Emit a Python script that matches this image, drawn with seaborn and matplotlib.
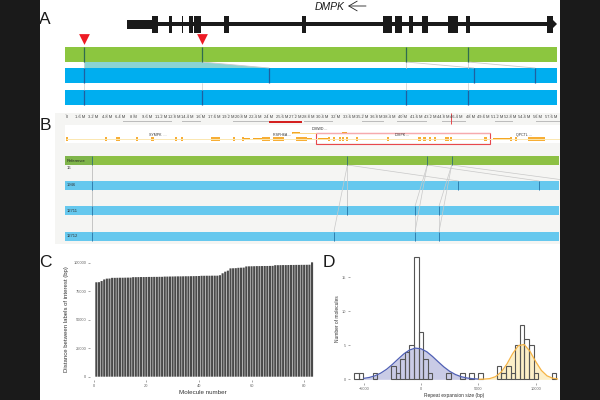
import numpy as np
import pandas as pd
import matplotlib
matplotlib.use("Agg")
import matplotlib.pyplot as plt
from matplotlib.patches import Rectangle, Polygon
import seaborn as sns

# ---------- Panel A (position units: along the reference map) ----------
gene_exons = [(87.4, 93), (104, 106.7), (117, 117.7), (123.6, 127.8), (129, 136.4),
              (159, 164), (237, 241), (317.8, 327), (329.5, 337.4), (344.3, 348.4),
              (356.7, 363), (383, 387.7), (388.4, 393), (400.5, 404.7), (481.5, 488)]
gene_span = (61.5, 492)
gene_utr = (61.5, 90)
repeat_sites = [18.5, 136.7]
a_reference = [19, 136.7, 341, 403]
a_mol1 = [19, 204, 408.8, 470]
a_mol2 = [19, 136.7, 341, 403]

# ---------- Panel B (Mb-style ruler units) ----------
ruler_labels = ["0", "1.6 M", "3.2 M", "4.8 M", "6.4 M", "8 M", "9.6 M", "11.2 M", "12.8 M",
                "14.4 M", "16 M", "17.6 M", "19.2 M", "20.8 M", "22.4 M", "24 M", "25.6 M",
                "27.2 M", "28.8 M", "30.4 M", "32 M", "33.6 M", "35.2 M", "36.8 M", "38.4 M",
                "40 M", "41.6 M", "43.2 M", "44.8 M", "46.4 M", "48 M", "49.6 M", "51.2 M",
                "52.8 M", "54.4 M", "56 M", "57.6 M"]
ruler_values = [0, 1.6, 3.2, 4.8, 6.4, 8, 9.6, 11.2, 12.8, 14.4, 16, 17.6, 19.2, 20.8, 22.4, 24,
                25.6, 27.2, 28.8, 30.4, 32, 33.6, 35.2, 36.8, 38.4, 40, 41.6, 43.2, 44.8, 46.4,
                48, 49.6, 51.2, 52.8, 54.4, 56, 57.6]
gap_segments = [(6.7, 12.55), (13.7, 16), (19.8, 24.1), (28.25, 31.7), (35.1, 37.75),
                (39.3, 42.9), (44.65, 47.5), (50.95, 53.1), (55.8, 58.7)]
red_segment = (24.1, 28)
small_exons = [(-0.1, 0.15), (4.55, 4.85), (5.9, 6.4), (8.3, 8.55), (10.1, 10.4), (12.85, 13.15),
               (13.6, 13.8), (17.2, 17.6), (17.7, 18.2), (19.8, 20.05), (20.9, 21.1),
               (31.1, 31.3), (31.7, 31.95), (32.4, 32.6), (32.8, 33.0), (33.2, 33.5), (34.4, 34.65),
               (38.1, 38.3), (41.85, 42.2), (42.35, 42.7), (43.1, 43.3), (43.7, 43.95),
               (45.0, 45.2), (45.3, 45.5), (45.6, 45.8), (49.65, 50.0), (52.75, 52.95), (53.35, 53.55)]
coding_segments = [(21.0, 21.8), (22.2, 23.25), (28.6, 29.2), (29.9, 31.1), (50.7, 52.7)]
big_exons = [(23.25, 24.2), (24.55, 25.9), (27.3, 28.6), (54.9, 56.9)]
upper_exons = [(26.8, 27.75), (32.7, 33.3)]
gene_names = ["SYMPK  ...", "RSPH6A ...", "DMWD ...", "DMPK ...", "QPCTL ..."]
gene_name_pos = [10.8, 25.6, 30.1, 39.9, 54.4]
gene_name_row = [135, 135, 129, 135, 135]
dmpk_box = (29.65, 50.35)
reference_b = [3.0, 33.4, 42.9, 45.8]
track_names = ["1946", "12711", "12712"]
track_labels = [[3.0, 46.6, 56.2], [3.0, 33.4, 41.45, 44.3], [3.0, 31.8, 41.45, 44.3]]

# ---------- Panel C ----------
molecule_distance = [82800, 82900, 83900, 85300, 86000, 86100,
                     86700, 86700, 86750, 86800, 86800, 86850, 86900, 86900,
                     87300, 87300, 87350, 87400, 87400, 87450, 87500, 87500, 87550, 87550, 87600, 87600,
                     87800, 87800, 87850, 87900, 87950, 88000, 88000, 88050, 88100, 88100, 88150, 88200, 88250, 88300,
                     88500, 88500, 88550, 88550, 88600, 88600, 88600,
                     89000, 90700, 92100, 93000, 95000, 95100, 95200, 95500, 95600, 95700,
                     96700, 96800, 96850, 96900,
                     97000, 97000, 97050, 97100, 97100, 97150, 97200,
                     97800, 97800, 97850, 97900, 97900, 97950, 98000, 98000, 98050, 98050, 98100, 98100, 98150, 98200,
                     100300]
molecule_number = list(range(1, len(molecule_distance) + 1))
c_xticks = [0, 20, 40, 60, 80]
c_yticks = [0, 25000, 50000, 75000, 100000]

# ---------- Panel D ----------
bin_start = -5820
bin_width = 401
bin_counts = [1, 1, 0, 0, 1, 0, 0, 0, 2, 1, 3, 4, 5, 18, 7, 3, 1, 0, 0, 0, 1, 0, 0, 1, 0, 1, 0, 1,
              0, 0, 0, 2, 1, 2, 1, 5, 8, 6, 5, 1, 0, 0, 0, 1]
blue_x = [-5000, -4500, -4000, -3500, -3000, -2500, -2000, -1500, -1000, -500, 0, 500, 1000,
          1500, 2000, 2500, 3000, 3500, 4000, 4500, 5000]
blue_y = [0.14, 0.28, 0.53, 0.93, 1.48, 2.19, 2.98, 3.74, 4.31, 4.59, 4.49, 4.06, 3.37,
          2.58, 1.82, 1.18, 0.71, 0.39, 0.20, 0.09, 0.04]
orange_x = [5000, 5500, 6000, 6500, 7000, 7500, 8000, 8500, 9000, 9500, 10000, 10500, 11000, 11500, 12000]
orange_y = [0.0, 0.03, 0.11, 0.39, 1.07, 2.26, 3.78, 4.96, 5.12, 4.14, 2.64, 1.32, 0.51, 0.16, 0.04]
d_xticks = [-5000, 0, 5000, 10000]
d_yticks = [0, 5, 10, 15]

# ---------- Styling ----------
GREEN_A, BLUE_A = "#8CC63F", "#00AEEF"
GREEN_B, BLUE_B = "#8DC044", "#66C8EE"
sns.set_theme(style="white")
plt.rcParams["font.family"] = ["Liberation Sans", "DejaVu Sans"]

W, H = 600, 400
fig = plt.figure(figsize=(6, 4), dpi=100, facecolor="white")


def px_axes(x0, y0, x1, y1):
    return fig.add_axes([x0 / W, 1 - y1 / H, (x1 - x0) / W, (y1 - y0) / H])


# ---------- A ----------
axa = px_axes(40, 0, 560, 108)
axa.set_xlim(-25, 495)
axa.set_ylim(108, 0)
axa.axis("off")
axa.add_patch(Rectangle((gene_span[0], 22), gene_span[1] - 3 - gene_span[0], 4, color="k", lw=0))
axa.add_patch(Rectangle((gene_utr[0], 19.5), gene_utr[1] - gene_utr[0], 9, color="k", lw=0))
for s, e in gene_exons:
    axa.add_patch(Rectangle((s, 16), e - s, 16.5, color="k", lw=0))
axa.add_patch(Polygon([(487, 19), (492, 24), (487, 29)], color="k", lw=0))
axa.text(265, 6.5, "DMPK", style="italic", fontsize=7.5, ha="center", va="center", color="k")
axa.annotate("", xy=(283, 6), xytext=(301, 6),
             arrowprops=dict(arrowstyle="->,head_length=0.6,head_width=0.35", lw=0.6, color="#222",
                             mutation_scale=10, shrinkA=0, shrinkB=0))
axa.scatter(repeat_sites, [39] * len(repeat_sites), marker="v", s=60, color="#EE1C25", lw=0, zorder=5)
axa.add_patch(Polygon([(a_reference[0], 62), (a_reference[1], 62), (a_mol1[1], 68), (a_mol1[0], 68)],
                      color="#8AD3D3", lw=0))
axa.add_patch(Rectangle((0, 46.5), 492, 15.5, color=GREEN_A, lw=0))
axa.add_patch(Rectangle((0, 68), 492, 15, color=BLUE_A, lw=0))
axa.add_patch(Rectangle((0, 89.5), 492, 15, color=BLUE_A, lw=0))
for r, m in zip(a_reference, a_mol1):
    if r != a_reference[0]:
        axa.plot([r, m], [62, 68], color="#C9C9C9", lw=0.6)
for r in a_reference:
    axa.plot([r, r], [83, 89.5], color="#D5D5D5", lw=0.6)
    if r != a_reference[1]:
        axa.plot([r, r], [62, 68], color="#CFCFCF", lw=0.6)
for xs, y0, y1 in [(a_reference, 46.5, 62), (a_mol1, 68, 83), (a_mol2, 89.5, 104.5)]:
    axa.vlines(xs, y0, y1, color="#1F5FA0" if y0 > 60 else "#2F6B50", lw=0.9)

# ---------- B ----------
axb = px_axes(55, 113, 560, 244)
axb.set_xlim(-1.367, 58.68)
axb.set_ylim(244, 113)
axb.axis("off")
axb.add_patch(Rectangle((-1.367, 113), 60.05, 131, color="#F5F5F3", lw=0))
axb.add_patch(Rectangle((-0.15, 125), 58.83, 17.5, color="white", lw=0))
for v, lab in zip(ruler_values, ruler_labels):
    axb.text(v, 117.2, lab, fontsize=2.9, ha="center", va="center", color="#444")
    axb.vlines(v, 113.5, 115, color="#888", lw=0.3)
for s, e in gap_segments:
    axb.add_patch(Rectangle((s, 120.8), e - s, 1.6, color="#BDBDBD", lw=0))
axb.add_patch(Rectangle((red_segment[0], 120.6), red_segment[1] - red_segment[0], 2, color="#D42020", lw=0))
axb.hlines(139, 0, 58.68, color="#FBE7B0", lw=0.7)
axb.hlines(133.2, 26.8, 33.3, color="#FAD98F", lw=0.7)
for s, e in small_exons + big_exons:
    axb.add_patch(Rectangle((s, 136.8), e - s, 4.2, color="#F7AE35", lw=0))
for s, e in coding_segments:
    axb.add_patch(Rectangle((s, 138), e - s, 2, color="#F5A623", lw=0))
for s, e in upper_exons:
    axb.add_patch(Rectangle((s, 132), e - s, 2, color="#F5A623", lw=0))
for n, x, y in zip(gene_names, gene_name_pos, gene_name_row):
    axb.text(x, y, n, fontsize=2.6, ha="center", va="center", color="#333")
axb.add_patch(Rectangle((dmpk_box[0], 133), dmpk_box[1] - dmpk_box[0], 11, fill=False,
                        edgecolor="#E8474C", lw=0.8))
axb.hlines(133, dmpk_box[0], dmpk_box[1], color="#F6AAAE", lw=0.9)
axb.vlines(45.7, 113, 124, color="#E8474C", lw=0.7)

# links between maps
link_color = "#C8C8C8"
axb.plot([3.0, 3.0], [165, 240], color="#BDBDBD", lw=0.6)
for r, t in zip(reference_b[1:], [46.6, 56.2, 60]):
    axb.plot([r, t], [165, 181], color=link_color, lw=0.5)
for r, t in zip(reference_b[1:], track_labels[1][1:]):
    axb.plot([r, t], [165, 206], color=link_color, lw=0.5)
axb.plot([33.4, 33.4], [190, 206], color=link_color, lw=0.5)
for r, t in zip(reference_b[1:], track_labels[2][1:]):
    axb.plot([r, t], [165, 231.5], color=link_color, lw=0.5, clip_on=True)
for r in track_labels[1][2:]:
    axb.plot([r, r], [215, 231.5], color=link_color, lw=0.5)

axb.add_patch(Rectangle((-0.18, 156), 58.74, 9, color=GREEN_B, lw=0))
axb.add_patch(Rectangle((-0.18, 156), 3.18, 9, color="#7FB54A", lw=0))
axb.text(0, 160.5, "Reference", fontsize=3, va="center", color="#222")
axb.text(0, 168, "16", fontsize=3, va="center", color="#333")
axb.vlines(reference_b, 156, 165, color="#3E7A6B", lw=0.7)
for y0, name, labs in zip([181, 206, 231.5], track_names, track_labels):
    axb.add_patch(Rectangle((-0.18, y0), 58.74, 9, color=BLUE_B, lw=0))
    axb.text(0, y0 + 4.5, name, fontsize=3, va="center", color="#333")
    axb.vlines(labs, y0, y0 + 9, color="#2F7FB0", lw=0.7)

# ---------- C ----------
axc = px_axes(90, 258, 316, 380)
dfc = pd.DataFrame({"molecule": molecule_number, "distance": molecule_distance})
sns.barplot(data=dfc, x="molecule", y="distance", native_scale=True, color="#4A4A4A",
            saturation=1, width=0.8, linewidth=0, edgecolor="none", ax=axc)
for bar in axc.patches:
    bar.set_snap(False)
axc.set_xlim(-1.41, 84.5)
axc.set_ylim(-2900, 104100)
axc.set_xticks(c_xticks)
axc.set_yticks(c_yticks)
axc.tick_params(axis="both", labelsize=2.9, length=1.2, width=0.4, pad=1.5, colors="#666",
                left=True, bottom=True)
axc.set_xlabel("Molecule number", fontsize=4.5, labelpad=1.8, color="#333")
axc.set_ylabel("Distance between labels of interest (bp)", fontsize=4.3, labelpad=3, color="#333")
sns.despine(ax=axc, left=True, bottom=True)

# ---------- D ----------
axd = px_axes(350, 254, 558, 383)
edges = [bin_start + bin_width * k for k in range(len(bin_counts) + 1)]
centres = [(a + b) / 2 for a, b in zip(edges[:-1], edges[1:])]
axd.fill_between(blue_x, 0, blue_y, color="#C9CBE6", lw=0, zorder=1)
axd.fill_between(orange_x, 0, orange_y, color="#FCEFC8", lw=0, zorder=1)
sns.histplot(x=centres, weights=bin_counts, bins=edges, fill=False, element="bars",
             color="#555555", linewidth=0.8, ax=axd, zorder=2)
for p in axd.patches:
    if p.get_height() == 0:
        p.set_visible(False)
sns.lineplot(x=orange_x, y=orange_y, color="#F6B445", lw=0.9, ax=axd, zorder=3)
sns.lineplot(x=blue_x, y=blue_y, color="#5060B5", lw=0.9, ax=axd, zorder=3)
axd.set_xlim(-6196, 11955)
axd.set_ylim(-0.54, 18.43)
axd.set_xticks(d_xticks)
axd.set_yticks(d_yticks)
axd.tick_params(axis="both", labelsize=2.8, length=1.2, width=0.4, pad=1.5, colors="#666",
                left=True, bottom=True)
axd.set_xlabel("Repeat expansion size (bp)", fontsize=3.5, labelpad=1.5, color="#333")
axd.set_ylabel("Number of molecules", fontsize=3.5, labelpad=1.5, color="#333")
sns.despine(ax=axd, left=True, bottom=True)

# ---------- Frame and panel letters ----------
fig.add_artist(Rectangle((0, 0), 40 / W, 1, transform=fig.transFigure, color="k", lw=0))
fig.add_artist(Rectangle((560 / W, 0), 40 / W, 1, transform=fig.transFigure, color="k", lw=0))
for letter, x, y in [("A", 45, 19), ("B", 45, 125.5), ("C", 45, 262.5), ("D", 328.5, 262.5)]:
    fig.text(x / W, 1 - y / H, letter, fontsize=12.5, ha="center", va="center", color="k")

fig.savefig("out.png", dpi=100)
